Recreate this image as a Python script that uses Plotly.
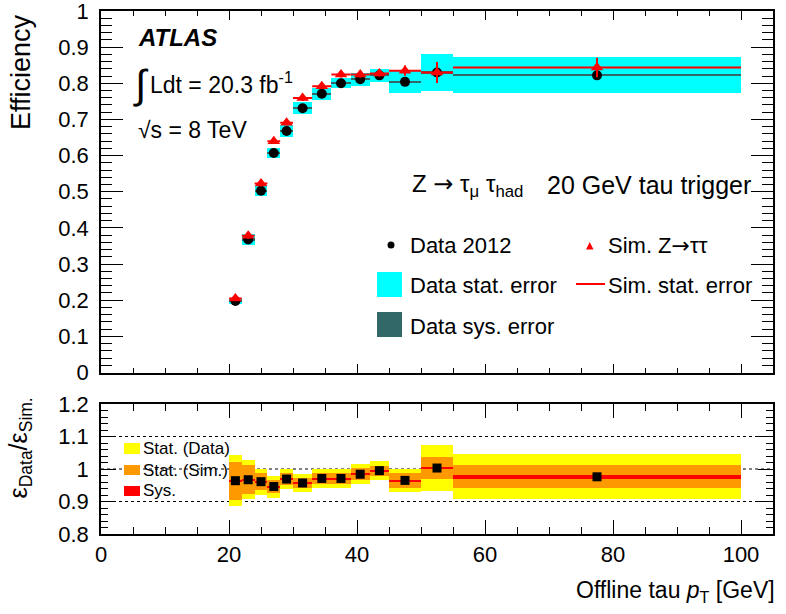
import plotly.graph_objects as go

# ---------------- data ----------------
bin_edges = [20, 22, 24, 26, 28, 30, 33, 36, 39, 42, 45, 50, 55, 100]

data_eff = [0.198, 0.368, 0.503, 0.607, 0.668, 0.731, 0.771, 0.800, 0.811, 0.822, 0.804, 0.830, 0.822]
data_stat_err = [0.008, 0.015, 0.016, 0.014, 0.016, 0.016, 0.016, 0.014, 0.018, 0.018, 0.031, 0.050, 0.050]
data_sys_err = [0.003, 0.003, 0.003, 0.003, 0.003, 0.003, 0.003, 0.003, 0.003, 0.003, 0.003, 0.003, 0.003]

sim_eff = [0.205, 0.378, 0.523, 0.640, 0.691, 0.759, 0.792, 0.824, 0.824, 0.827, 0.835, 0.830, 0.844]
sim_stat_err = [0.006, 0.008, 0.008, 0.008, 0.008, 0.008, 0.008, 0.008, 0.008, 0.008, 0.014, 0.029, 0.027]

ratio = [0.964, 0.967, 0.961, 0.946, 0.969, 0.957, 0.971, 0.971, 0.984, 0.995, 0.965, 1.003, 0.976]
ratio_stat_data = [0.079, 0.060, 0.040, 0.034, 0.031, 0.027, 0.029, 0.028, 0.030, 0.030, 0.036, 0.071, 0.069]
ratio_stat_sim = [0.058, 0.045, 0.027, 0.019, 0.018, 0.015, 0.017, 0.018, 0.018, 0.015, 0.022, 0.035, 0.035]
ratio_sys = [0.002, 0.002, 0.002, 0.002, 0.002, 0.002, 0.002, 0.002, 0.002, 0.002, 0.002, 0.002, 0.006]

ratio_ref_lines = [0.9, 1.0, 1.1]

eff_ticks = [0, 0.1, 0.2, 0.3, 0.4, 0.5, 0.6, 0.7, 0.8, 0.9, 1]
eff_ticklabels = ["0", "0.1", "0.2", "0.3", "0.4", "0.5", "0.6", "0.7", "0.8", "0.9", "1"]
ratio_ticks = [0.8, 0.9, 1.0, 1.1, 1.2]
ratio_ticklabels = ["0.8", "0.9", "1", "1.1", "1.2"]
pt_ticks = [0, 20, 40, 60, 80, 100]

# ---------------- derived bin geometry ----------------
centers = [(a + b) / 2 for a, b in zip(bin_edges[:-1], bin_edges[1:])]
widths = [b - a for a, b in zip(bin_edges[:-1], bin_edges[1:])]
half_widths = [w / 2 for w in widths]

# ---------------- colours / fonts ----------------
CYAN = "#00ffff"
DARK = "#336868"
RED = "#ff0000"
YELLOW = "#ffff00"
ORANGE = "#ff9900"
FONT = "Liberation Sans, Arial, Helvetica, sans-serif"
ARROW = '<span style="font-family:DejaVu Sans">→</span>'

W, H = 786, 614
FRAME_L, FRAME_R, FRAME_T, FRAME_B = 101, 773, 11, 534
ML, MR, MT, MB = FRAME_L, W - FRAME_R, FRAME_T, H - FRAME_B
PW = FRAME_R - FRAME_L
PH = FRAME_B - FRAME_T


def px(x):
    return (x - FRAME_L) / PW


def py(y):
    return (FRAME_B - y) / PH


def band(values, errs, color, xa, ya, name):
    return go.Bar(
        x=centers,
        y=[2 * e for e in errs],
        base=[v - e for v, e in zip(values, errs)],
        width=widths,
        marker=dict(color=color, line=dict(width=0)),
        xaxis=xa, yaxis=ya, name=name, showlegend=False, hoverinfo="skip",
    )


fig = go.Figure()

# ---- top panel ----
fig.add_trace(band(data_eff, data_stat_err, CYAN, "x", "y", "Data stat. error"))
fig.add_trace(band(data_eff, data_sys_err, DARK, "x", "y", "Data sys. error"))
fig.add_trace(go.Scatter(
    x=centers, y=data_eff, mode="markers", name="Data 2012",
    marker=dict(symbol="circle", size=10, color="black"),
    xaxis="x", yaxis="y", showlegend=False,
))
fig.add_trace(go.Scatter(
    x=centers, y=sim_eff, mode="markers", name="Sim. Z→ττ",
    marker=dict(symbol="triangle-up", size=11, color=RED),
    error_x=dict(type="data", array=half_widths, color=RED, thickness=2, width=0),
    error_y=dict(type="data", array=sim_stat_err, color=RED, thickness=2, width=0),
    xaxis="x", yaxis="y", showlegend=False,
))

# ---- bottom panel ----
fig.add_trace(band(ratio, ratio_stat_data, YELLOW, "x2", "y2", "Stat. (Data)"))
fig.add_trace(band(ratio, ratio_stat_sim, ORANGE, "x2", "y2", "Stat. (Sim.)"))
fig.add_trace(band(ratio, ratio_sys, RED, "x2", "y2", "Sys."))
fig.add_trace(go.Scatter(
    x=centers, y=ratio, mode="markers", name="Data/Sim",
    marker=dict(symbol="square", size=9, color="black"),
    xaxis="x2", yaxis="y2", showlegend=False,
))

axis_common = dict(
    showline=True, linecolor="black", linewidth=1.5, mirror="allticks",
    ticks="inside", tickcolor="black", tickwidth=1,
    showgrid=False, zeroline=False, automargin=False, ticklabeloverflow="allow",
    tickfont=dict(family=FONT, size=22, color="black"),
)

top_lo = py(372.5)
bot_hi = py(404)

fig.update_layout(
    width=W, height=H,
    margin=dict(l=ML, r=MR, t=MT, b=MB, autoexpand=False),
    paper_bgcolor="white", plot_bgcolor="white",
    barmode="overlay", bargap=0,
    showlegend=False,
    font=dict(family=FONT, color="black"),
    xaxis=dict(axis_common, domain=[0, 1], range=[0, 105], anchor="y",
               showticklabels=False, tickmode="array", tickvals=pt_ticks, ticklen=9,
               minor=dict(dtick=5, tick0=0, ticklen=5, ticks="inside", tickcolor="black")),
    yaxis=dict(axis_common, domain=[top_lo, 1], range=[0, 1], anchor="x",
               tickmode="array", tickvals=eff_ticks, ticktext=eff_ticklabels,
               ticklen=22, ticklabelstandoff=6,
               minor=dict(dtick=0.02, tick0=0, ticklen=11, ticks="inside", tickcolor="black")),
    xaxis2=dict(axis_common, domain=[0, 1], range=[0, 105], anchor="y2",
                tickmode="array", tickvals=pt_ticks, ticklen=14,
                minor=dict(dtick=5, tick0=0, ticklen=7, ticks="inside", tickcolor="black")),
    yaxis2=dict(axis_common, domain=[0, bot_hi], range=[0.8, 1.2], anchor="x2",
                tickmode="array", tickvals=ratio_ticks, ticktext=ratio_ticklabels,
                ticklen=15, ticklabelstandoff=6,
                minor=dict(dtick=0.02, tick0=0.8, ticklen=7, ticks="inside", tickcolor="black")),
)

# dotted reference lines in ratio panel
for v in ratio_ref_lines:
    fig.add_shape(type="line", xref="x2 domain", yref="y2", x0=0, x1=1, y0=v, y1=v,
                  line=dict(color="black", width=1, dash="dot"), layer="below")

ann = []


def text(x, y, s, size, xanchor="left", yanchor="middle", angle=0, **kw):
    ann.append(dict(x=px(x), y=py(y), xref="paper", yref="paper", text=s,
                    showarrow=False, xanchor=xanchor, yanchor=yanchor,
                    textangle=angle, font=dict(family=FONT, size=size, color="black"), **kw))


# axis titles
text(21, 12, "Efficiency", 27, xanchor="center", yanchor="top", angle=-90)
text(19, 396, "ε<sub>Data</sub>/ε<sub>Sim.</sub>", 25, xanchor="center", yanchor="top", angle=-90)
text(777, 591, "Offline tau <i>p</i><sub>T</sub> [GeV]", 23, xanchor="right")

# ATLAS label
text(136, 38, "<b><i>ATLAS</i></b>", 24)
text(141, 85, "∫", 40, xanchor="center")
text(148, 83, "Ldt = 20.3 fb<sup>-1</sup>", 23)
text(136, 130, "√s = 8 TeV", 23)

# channel label
text(410, 185, "Z " + ARROW + " τ<sub>μ</sub> τ<sub>had</sub>", 24)
text(545, 185, "20 GeV tau trigger", 25)

# top legend
text(408, 245, "Data 2012", 22)
text(606, 245, "Sim. Z" + ARROW + "ττ", 22)
text(408, 285, "Data stat. error", 22)
text(606, 285, "Sim. stat. error", 22)
text(408, 326, "Data sys. error", 22)

# bottom legend
text(141, 448, "Stat. (Data)", 17)
text(141, 470, "Stat. (Sim.)", 17)
text(141, 490, "Sys.", 17)

fig.update_layout(annotations=ann)


# legend glyphs (layout decoration)
def rect(x0, y0, x1, y1, color):
    fig.add_shape(type="rect", xref="paper", yref="paper", x0=px(x0), x1=px(x1),
                  y0=py(y1), y1=py(y0), fillcolor=color, line=dict(width=0))


fig.add_shape(type="circle", xref="paper", yref="paper", x0=px(387.5), x1=px(394.5),
              y0=py(248.5), y1=py(241.5), fillcolor="black", line=dict(width=0))
fig.add_shape(type="path", xref="paper", yref="paper",
              path="M {:.5f} {:.5f} L {:.5f} {:.5f} L {:.5f} {:.5f} Z".format(
                  px(586), py(249.5), px(593.5), py(249.5), px(589.75), py(242)),
              fillcolor=RED, line=dict(width=0))
rect(377, 272, 402, 297, CYAN)
rect(377, 312, 402, 337, DARK)
fig.add_shape(type="line", xref="paper", yref="paper", x0=px(576), x1=px(605),
              y0=py(284), y1=py(284), line=dict(color=RED, width=2))
rect(124, 443, 140, 454, YELLOW)
rect(124, 465, 140, 475, ORANGE)
rect(124, 486, 140, 496, RED)

# remove the default page margin so the figure fills the window exactly
fig.write_html("out.html", config={"displayModeBar": False},
               post_script="document.body.style.margin='0';")
